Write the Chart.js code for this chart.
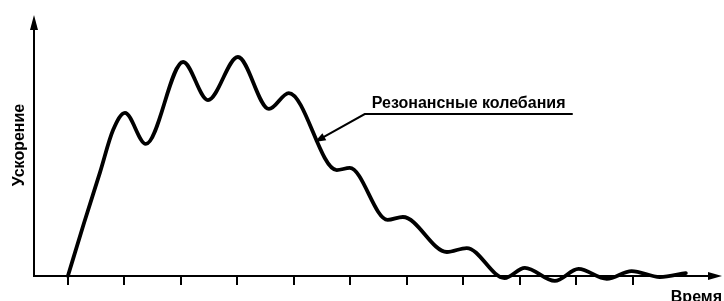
<!DOCTYPE html>
<html>
<head>
<meta charset="utf-8">
<script src="https://cdn.jsdelivr.net/npm/chart.js@4.4.1/dist/chart.umd.min.js"></script>
<style>
    html, body { margin: 0; padding: 0; background: #fff; }
    canvas { display: block; }
</style>
</head>
<body>
<canvas id="resonance-chart" width="724" height="301"></canvas>

<script>
    // curve: time (tick units) and acceleration (0..100 of the axis height)
    let time_values  = [0, 0.28, 0.57, 0.80, 1.01, 1.38, 2.04, 2.48, 3.01, 3.56, 3.91, 4.76, 4.99, 5.66, 5.93, 6.71, 7.06, 7.73, 8.09, 8.62, 9.04, 9.54, 9.98, 10.48, 10.94];
    let accel_values = [0, 19.9, 39.8, 55.9, 62.5, 50.6, 82.0, 67.4, 83.9, 64.0, 70.1, 40.6, 41.4, 21.5, 22.6, 9.2, 10.7, -0.8, 3.1, -1.9, 2.7, -1.1, 1.9, -0.4, 1.1];

    // unlabelled tick marks on the time axis
    let time_ticks = [0, 1, 2, 3, 4, 5, 6, 7, 8, 9, 10];

    let x_label = 'Время';
    let y_label = 'Ускорение';
    let note_label = 'Резонансные колебания';
    let note_target = {x: 4.37, y: 51.3};

    let points = time_values.map((t, i) => ({x: t, y: accel_values[i]}));

    function arrow_head(ctx, x1, y1, x2, y2, len, half) {
        // filled triangle at (x2, y2) pointing from (x1, y1)
        let a = Math.atan2(y2 - y1, x2 - x1);
        ctx.beginPath();
        ctx.moveTo(x2, y2);
        ctx.lineTo(x2 - len * Math.cos(a) + half * Math.sin(a), y2 - len * Math.sin(a) - half * Math.cos(a));
        ctx.lineTo(x2 - len * Math.cos(a) - half * Math.sin(a), y2 - len * Math.sin(a) + half * Math.cos(a));
        ctx.closePath();
        ctx.fill();
    }

    let axes_plugin = {
        id: 'axes_plugin',
        beforeDatasetsDraw(chart) {
            let ctx = chart.ctx;
            let area = chart.chartArea;
            let xs = chart.scales.x;
            ctx.save();
            ctx.strokeStyle = '#000';
            ctx.fillStyle = '#000';
            ctx.lineWidth = 2;

            // axes
            ctx.beginPath();
            ctx.moveTo(area.left, area.top + 10);
            ctx.lineTo(area.left, area.bottom);
            ctx.lineTo(area.right - 10, area.bottom);
            ctx.stroke();
            arrow_head(ctx, area.left, area.bottom, area.left, area.top, 15, 4);
            arrow_head(ctx, area.left, area.bottom, area.right, area.bottom, 14, 4);

            // tick marks
            ctx.beginPath();
            time_ticks.forEach(t => {
                let px = Math.round(xs.getPixelForValue(t));
                ctx.moveTo(px, area.bottom);
                ctx.lineTo(px, area.bottom + 9);
            });
            ctx.stroke();
            ctx.restore();
        },
        afterDraw(chart) {
            let ctx = chart.ctx;
            let area = chart.chartArea;
            let xs = chart.scales.x, ys = chart.scales.y;
            ctx.save();
            ctx.fillStyle = '#000';
            ctx.strokeStyle = '#000';
            ctx.font = 'bold 16px "Liberation Sans", Arial, sans-serif';

            // axis titles
            ctx.textAlign = 'right';
            ctx.textBaseline = 'alphabetic';
            ctx.fillText(x_label, area.right, area.bottom + 26);

            ctx.save();
            ctx.translate(24, 145);
            ctx.rotate(-Math.PI / 2);
            ctx.textAlign = 'center';
            ctx.fillText(y_label, 0, 0);
            ctx.restore();

            // annotation with leader line
            let tx = xs.getPixelForValue(note_target.x);
            let ty = ys.getPixelForValue(note_target.y);
            let elbow_x = tx + 50, elbow_y = ty - 28;
            ctx.lineWidth = 2;
            ctx.beginPath();
            ctx.moveTo(elbow_x + 208, elbow_y);
            ctx.lineTo(elbow_x, elbow_y);
            ctx.lineTo(tx + 6, ty - 3.4);
            ctx.stroke();
            arrow_head(ctx, elbow_x, elbow_y, tx, ty, 11, 4);

            ctx.textAlign = 'left';
            ctx.fillText(note_label, elbow_x + 7, elbow_y - 6);
            ctx.restore();
        }
    };

    new Chart(document.getElementById('resonance-chart'), {
        type: 'line',
        data: {
            datasets: [{
                data: points,
                borderColor: '#000',
                borderWidth: 3.8,
                borderCapStyle: 'round',
                borderJoinStyle: 'round',
                cubicInterpolationMode: 'monotone',
                pointRadius: 0,
                fill: false,
                clip: false
            }]
        },
        options: {
            responsive: false,
            devicePixelRatio: 1,
            animation: false,
            layout: { padding: {left: 34, top: 15, right: 2, bottom: 25} },
            plugins: { legend: {display: false}, tooltip: {enabled: false} },
            scales: {
                x: { type: 'linear', min: -0.6, max: 11.58, display: false },
                y: { type: 'linear', min: 0, max: 100, display: false }
            }
        },
        plugins: [axes_plugin]
    });
</script>
</body>
</html>
